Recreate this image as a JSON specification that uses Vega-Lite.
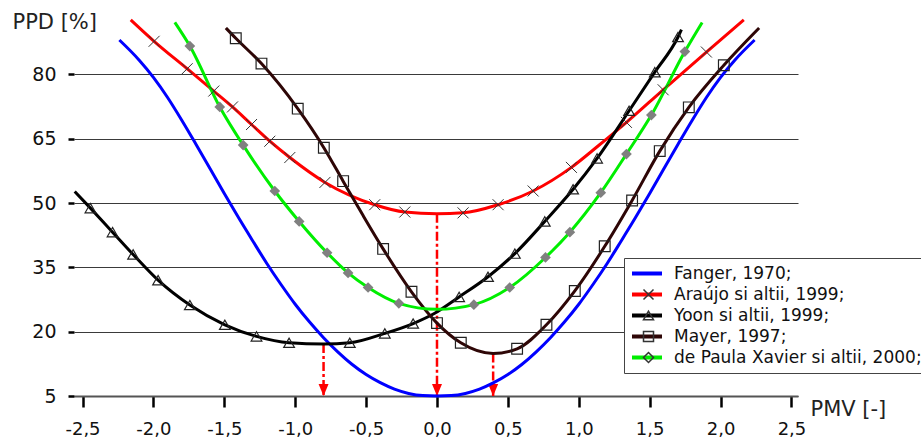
{
  "$schema": "https://vega.github.io/schema/vega-lite/v6.json",
  "width": 724,
  "height": 386,
  "autosize": "none",
  "padding": {"left": 74, "top": 10, "right": 123, "bottom": 44},
  "background": "white",
  "config": {
    "font": "DejaVu Sans",
    "view": {"stroke": null},
    "legend": {
      "orient": "none",
      "legendX": 550,
      "legendY": 248,
      "padding": 6,
      "labelFontSize": 17,
      "labelColor": "#111",
      "labelFont": "DejaVu Sans",
      "labelLimit": 500,
      "clipHeight": 19,
      "rowPadding": 2,
      "title": null
    }
  },
  "datasets": {
    "curves": [
      {"series": "Fanger, 1970;", "pmv": -2.24, "ppd": 88.0},
      {"series": "Fanger, 1970;", "pmv": -2.1, "ppd": 83.3},
      {"series": "Fanger, 1970;", "pmv": -2.0, "ppd": 79.3},
      {"series": "Fanger, 1970;", "pmv": -1.9, "ppd": 74.6},
      {"series": "Fanger, 1970;", "pmv": -1.8, "ppd": 69.3},
      {"series": "Fanger, 1970;", "pmv": -1.7, "ppd": 63.7},
      {"series": "Fanger, 1970;", "pmv": -1.6, "ppd": 58.0},
      {"series": "Fanger, 1970;", "pmv": -1.5, "ppd": 52.2},
      {"series": "Fanger, 1970;", "pmv": -1.4, "ppd": 46.6},
      {"series": "Fanger, 1970;", "pmv": -1.3, "ppd": 41.2},
      {"series": "Fanger, 1970;", "pmv": -1.2, "ppd": 35.9},
      {"series": "Fanger, 1970;", "pmv": -1.1, "ppd": 31.0},
      {"series": "Fanger, 1970;", "pmv": -1.0, "ppd": 26.4},
      {"series": "Fanger, 1970;", "pmv": -0.9, "ppd": 22.3},
      {"series": "Fanger, 1970;", "pmv": -0.8, "ppd": 18.6},
      {"series": "Fanger, 1970;", "pmv": -0.7, "ppd": 15.3},
      {"series": "Fanger, 1970;", "pmv": -0.6, "ppd": 12.4},
      {"series": "Fanger, 1970;", "pmv": -0.5, "ppd": 10.0},
      {"series": "Fanger, 1970;", "pmv": -0.4, "ppd": 8.1},
      {"series": "Fanger, 1970;", "pmv": -0.3, "ppd": 6.6},
      {"series": "Fanger, 1970;", "pmv": -0.2, "ppd": 5.6},
      {"series": "Fanger, 1970;", "pmv": -0.1, "ppd": 5.1},
      {"series": "Fanger, 1970;", "pmv": 0.0, "ppd": 5.0},
      {"series": "Fanger, 1970;", "pmv": 0.1, "ppd": 5.1},
      {"series": "Fanger, 1970;", "pmv": 0.2, "ppd": 5.6},
      {"series": "Fanger, 1970;", "pmv": 0.3, "ppd": 6.6},
      {"series": "Fanger, 1970;", "pmv": 0.4, "ppd": 8.1},
      {"series": "Fanger, 1970;", "pmv": 0.5, "ppd": 10.0},
      {"series": "Fanger, 1970;", "pmv": 0.6, "ppd": 12.4},
      {"series": "Fanger, 1970;", "pmv": 0.7, "ppd": 15.3},
      {"series": "Fanger, 1970;", "pmv": 0.8, "ppd": 18.6},
      {"series": "Fanger, 1970;", "pmv": 0.9, "ppd": 22.3},
      {"series": "Fanger, 1970;", "pmv": 1.0, "ppd": 26.4},
      {"series": "Fanger, 1970;", "pmv": 1.1, "ppd": 31.0},
      {"series": "Fanger, 1970;", "pmv": 1.2, "ppd": 35.9},
      {"series": "Fanger, 1970;", "pmv": 1.3, "ppd": 41.2},
      {"series": "Fanger, 1970;", "pmv": 1.4, "ppd": 46.6},
      {"series": "Fanger, 1970;", "pmv": 1.5, "ppd": 52.2},
      {"series": "Fanger, 1970;", "pmv": 1.6, "ppd": 58.0},
      {"series": "Fanger, 1970;", "pmv": 1.7, "ppd": 63.7},
      {"series": "Fanger, 1970;", "pmv": 1.8, "ppd": 69.3},
      {"series": "Fanger, 1970;", "pmv": 1.9, "ppd": 74.6},
      {"series": "Fanger, 1970;", "pmv": 2.0, "ppd": 79.3},
      {"series": "Fanger, 1970;", "pmv": 2.1, "ppd": 83.3},
      {"series": "Fanger, 1970;", "pmv": 2.24, "ppd": 88.0},

      {"series": "Araújo si altii, 1999;", "pmv": -2.16, "ppd": 92.7},
      {"series": "Araújo si altii, 1999;", "pmv": -1.995, "ppd": 87.7},
      {"series": "Araújo si altii, 1999;", "pmv": -1.762, "ppd": 81.3},
      {"series": "Araújo si altii, 1999;", "pmv": -1.574, "ppd": 76.1},
      {"series": "Araújo si altii, 1999;", "pmv": -1.442, "ppd": 72.4},
      {"series": "Araújo si altii, 1999;", "pmv": -1.308, "ppd": 68.3},
      {"series": "Araújo si altii, 1999;", "pmv": -1.179, "ppd": 64.4},
      {"series": "Araújo si altii, 1999;", "pmv": -1.038, "ppd": 60.6},
      {"series": "Araújo si altii, 1999;", "pmv": -0.79, "ppd": 54.8},
      {"series": "Araújo si altii, 1999;", "pmv": -0.439, "ppd": 49.6},
      {"series": "Araújo si altii, 1999;", "pmv": -0.227, "ppd": 47.9},
      {"series": "Araújo si altii, 1999;", "pmv": 0.0, "ppd": 47.5},
      {"series": "Araújo si altii, 1999;", "pmv": 0.184, "ppd": 47.7},
      {"series": "Araújo si altii, 1999;", "pmv": 0.431, "ppd": 49.6},
      {"series": "Araújo si altii, 1999;", "pmv": 0.678, "ppd": 52.8},
      {"series": "Araújo si altii, 1999;", "pmv": 0.948, "ppd": 58.3},
      {"series": "Araújo si altii, 1999;", "pmv": 1.14, "ppd": 63.4},
      {"series": "Araújo si altii, 1999;", "pmv": 1.336, "ppd": 68.8},
      {"series": "Araújo si altii, 1999;", "pmv": 1.595, "ppd": 76.4},
      {"series": "Araújo si altii, 1999;", "pmv": 1.9, "ppd": 85.2},
      {"series": "Araújo si altii, 1999;", "pmv": 2.164, "ppd": 92.7},

      {"series": "Yoon si altii, 1999;", "pmv": -2.555, "ppd": 52.7},
      {"series": "Yoon si altii, 1999;", "pmv": -2.444, "ppd": 48.8},
      {"series": "Yoon si altii, 1999;", "pmv": -2.288, "ppd": 43.2},
      {"series": "Yoon si altii, 1999;", "pmv": -2.143, "ppd": 38.0},
      {"series": "Yoon si altii, 1999;", "pmv": -1.967, "ppd": 32.0},
      {"series": "Yoon si altii, 1999;", "pmv": -1.743, "ppd": 26.2},
      {"series": "Yoon si altii, 1999;", "pmv": -1.496, "ppd": 21.6},
      {"series": "Yoon si altii, 1999;", "pmv": -1.273, "ppd": 18.9},
      {"series": "Yoon si altii, 1999;", "pmv": -1.043, "ppd": 17.4},
      {"series": "Yoon si altii, 1999;", "pmv": -0.8, "ppd": 17.1},
      {"series": "Yoon si altii, 1999;", "pmv": -0.615, "ppd": 17.4},
      {"series": "Yoon si altii, 1999;", "pmv": -0.368, "ppd": 19.6},
      {"series": "Yoon si altii, 1999;", "pmv": -0.168, "ppd": 21.9},
      {"series": "Yoon si altii, 1999;", "pmv": -0.016, "ppd": 24.3},
      {"series": "Yoon si altii, 1999;", "pmv": 0.156, "ppd": 28.1},
      {"series": "Yoon si altii, 1999;", "pmv": 0.36, "ppd": 32.8},
      {"series": "Yoon si altii, 1999;", "pmv": 0.549, "ppd": 38.2},
      {"series": "Yoon si altii, 1999;", "pmv": 0.76, "ppd": 45.7},
      {"series": "Yoon si altii, 1999;", "pmv": 0.96, "ppd": 53.2},
      {"series": "Yoon si altii, 1999;", "pmv": 1.129, "ppd": 60.4},
      {"series": "Yoon si altii, 1999;", "pmv": 1.355, "ppd": 71.5},
      {"series": "Yoon si altii, 1999;", "pmv": 1.536, "ppd": 80.5},
      {"series": "Yoon si altii, 1999;", "pmv": 1.7, "ppd": 88.7},
      {"series": "Yoon si altii, 1999;", "pmv": 1.724, "ppd": 90.4},

      {"series": "Mayer, 1997;", "pmv": -1.489, "ppd": 90.8},
      {"series": "Mayer, 1997;", "pmv": -1.419, "ppd": 88.4},
      {"series": "Mayer, 1997;", "pmv": -1.238, "ppd": 82.5},
      {"series": "Mayer, 1997;", "pmv": -0.982, "ppd": 72.0},
      {"series": "Mayer, 1997;", "pmv": -0.798, "ppd": 62.9},
      {"series": "Mayer, 1997;", "pmv": -0.662, "ppd": 55.1},
      {"series": "Mayer, 1997;", "pmv": -0.52, "ppd": 47.0},
      {"series": "Mayer, 1997;", "pmv": -0.38, "ppd": 39.3},
      {"series": "Mayer, 1997;", "pmv": -0.18, "ppd": 29.3},
      {"series": "Mayer, 1997;", "pmv": 0.0, "ppd": 22.0},
      {"series": "Mayer, 1997;", "pmv": 0.168, "ppd": 17.4},
      {"series": "Mayer, 1997;", "pmv": 0.396, "ppd": 14.9},
      {"series": "Mayer, 1997;", "pmv": 0.565, "ppd": 16.0},
      {"series": "Mayer, 1997;", "pmv": 0.772, "ppd": 21.6},
      {"series": "Mayer, 1997;", "pmv": 0.972, "ppd": 29.5},
      {"series": "Mayer, 1997;", "pmv": 1.183, "ppd": 39.9},
      {"series": "Mayer, 1997;", "pmv": 1.376, "ppd": 50.6},
      {"series": "Mayer, 1997;", "pmv": 1.571, "ppd": 62.1},
      {"series": "Mayer, 1997;", "pmv": 1.776, "ppd": 72.3},
      {"series": "Mayer, 1997;", "pmv": 2.023, "ppd": 82.1},
      {"series": "Mayer, 1997;", "pmv": 2.272, "ppd": 90.8},

      {"series": "de Paula Xavier si altii, 2000;", "pmv": -1.849, "ppd": 92.1},
      {"series": "de Paula Xavier si altii, 2000;", "pmv": -1.743, "ppd": 86.6},
      {"series": "de Paula Xavier si altii, 2000;", "pmv": -1.532, "ppd": 72.4},
      {"series": "de Paula Xavier si altii, 2000;", "pmv": -1.367, "ppd": 63.5},
      {"series": "de Paula Xavier si altii, 2000;", "pmv": -1.144, "ppd": 52.8},
      {"series": "de Paula Xavier si altii, 2000;", "pmv": -0.972, "ppd": 45.7},
      {"series": "de Paula Xavier si altii, 2000;", "pmv": -0.775, "ppd": 38.4},
      {"series": "de Paula Xavier si altii, 2000;", "pmv": -0.627, "ppd": 33.7},
      {"series": "de Paula Xavier si altii, 2000;", "pmv": -0.486, "ppd": 30.3},
      {"series": "de Paula Xavier si altii, 2000;", "pmv": -0.269, "ppd": 26.6},
      {"series": "de Paula Xavier si altii, 2000;", "pmv": 0.0, "ppd": 25.2},
      {"series": "de Paula Xavier si altii, 2000;", "pmv": 0.26, "ppd": 26.3},
      {"series": "de Paula Xavier si altii, 2000;", "pmv": 0.513, "ppd": 30.3},
      {"series": "de Paula Xavier si altii, 2000;", "pmv": 0.765, "ppd": 37.3},
      {"series": "de Paula Xavier si altii, 2000;", "pmv": 0.937, "ppd": 43.2},
      {"series": "de Paula Xavier si altii, 2000;", "pmv": 1.155, "ppd": 52.4},
      {"series": "de Paula Xavier si altii, 2000;", "pmv": 1.336, "ppd": 61.4},
      {"series": "de Paula Xavier si altii, 2000;", "pmv": 1.512, "ppd": 70.5},
      {"series": "de Paula Xavier si altii, 2000;", "pmv": 1.748, "ppd": 85.3},
      {"series": "de Paula Xavier si altii, 2000;", "pmv": 1.87, "ppd": 92.1}
    ],
    "markers": [
      {"m": "A", "pmv": -1.995, "ppd": 87.7},
      {"m": "A", "pmv": -1.762, "ppd": 81.3},
      {"m": "A", "pmv": -1.574, "ppd": 76.1},
      {"m": "A", "pmv": -1.442, "ppd": 72.4},
      {"m": "A", "pmv": -1.308, "ppd": 68.3},
      {"m": "A", "pmv": -1.179, "ppd": 64.4},
      {"m": "A", "pmv": -1.038, "ppd": 60.6},
      {"m": "A", "pmv": -0.79, "ppd": 54.8},
      {"m": "A", "pmv": -0.439, "ppd": 49.6},
      {"m": "A", "pmv": -0.227, "ppd": 47.9},
      {"m": "A", "pmv": 0.184, "ppd": 47.7},
      {"m": "A", "pmv": 0.431, "ppd": 49.6},
      {"m": "A", "pmv": 0.678, "ppd": 52.8},
      {"m": "A", "pmv": 0.948, "ppd": 58.3},
      {"m": "A", "pmv": 1.336, "ppd": 68.8},
      {"m": "A", "pmv": 1.595, "ppd": 76.4},
      {"m": "A", "pmv": 1.9, "ppd": 85.2},

      {"m": "Y", "pmv": -2.444, "ppd": 48.8},
      {"m": "Y", "pmv": -2.288, "ppd": 43.2},
      {"m": "Y", "pmv": -2.143, "ppd": 38.0},
      {"m": "Y", "pmv": -1.967, "ppd": 32.0},
      {"m": "Y", "pmv": -1.743, "ppd": 26.2},
      {"m": "Y", "pmv": -1.496, "ppd": 21.6},
      {"m": "Y", "pmv": -1.273, "ppd": 18.9},
      {"m": "Y", "pmv": -1.043, "ppd": 17.4},
      {"m": "Y", "pmv": -0.615, "ppd": 17.4},
      {"m": "Y", "pmv": -0.368, "ppd": 19.6},
      {"m": "Y", "pmv": -0.168, "ppd": 21.9},
      {"m": "Y", "pmv": 0.156, "ppd": 28.1},
      {"m": "Y", "pmv": 0.36, "ppd": 32.8},
      {"m": "Y", "pmv": 0.549, "ppd": 38.2},
      {"m": "Y", "pmv": 0.76, "ppd": 45.7},
      {"m": "Y", "pmv": 0.96, "ppd": 53.2},
      {"m": "Y", "pmv": 1.129, "ppd": 60.4},
      {"m": "Y", "pmv": 1.355, "ppd": 71.5},
      {"m": "Y", "pmv": 1.536, "ppd": 80.5},
      {"m": "Y", "pmv": 1.7, "ppd": 88.7},

      {"m": "M", "pmv": -1.419, "ppd": 88.4},
      {"m": "M", "pmv": -1.238, "ppd": 82.5},
      {"m": "M", "pmv": -0.982, "ppd": 72.0},
      {"m": "M", "pmv": -0.798, "ppd": 62.9},
      {"m": "M", "pmv": -0.662, "ppd": 55.1},
      {"m": "M", "pmv": -0.38, "ppd": 39.3},
      {"m": "M", "pmv": -0.18, "ppd": 29.3},
      {"m": "M", "pmv": 0.0, "ppd": 22.0},
      {"m": "M", "pmv": 0.168, "ppd": 17.4},
      {"m": "M", "pmv": 0.565, "ppd": 16.0},
      {"m": "M", "pmv": 0.772, "ppd": 21.6},
      {"m": "M", "pmv": 0.972, "ppd": 29.5},
      {"m": "M", "pmv": 1.183, "ppd": 39.9},
      {"m": "M", "pmv": 1.376, "ppd": 50.6},
      {"m": "M", "pmv": 1.571, "ppd": 62.1},
      {"m": "M", "pmv": 1.776, "ppd": 72.3},
      {"m": "M", "pmv": 2.023, "ppd": 82.1},

      {"m": "P", "pmv": -1.743, "ppd": 86.6},
      {"m": "P", "pmv": -1.532, "ppd": 72.4},
      {"m": "P", "pmv": -1.367, "ppd": 63.5},
      {"m": "P", "pmv": -1.144, "ppd": 52.8},
      {"m": "P", "pmv": -0.972, "ppd": 45.7},
      {"m": "P", "pmv": -0.775, "ppd": 38.4},
      {"m": "P", "pmv": -0.627, "ppd": 33.7},
      {"m": "P", "pmv": -0.486, "ppd": 30.3},
      {"m": "P", "pmv": -0.269, "ppd": 26.6},
      {"m": "P", "pmv": 0.26, "ppd": 26.3},
      {"m": "P", "pmv": 0.513, "ppd": 30.3},
      {"m": "P", "pmv": 0.765, "ppd": 37.3},
      {"m": "P", "pmv": 0.937, "ppd": 43.2},
      {"m": "P", "pmv": 1.155, "ppd": 52.4},
      {"m": "P", "pmv": 1.336, "ppd": 61.4},
      {"m": "P", "pmv": 1.512, "ppd": 70.5},
      {"m": "P", "pmv": 1.748, "ppd": 85.3}
    ],
    "arrows": [
      {"pmv": -0.8, "top": 17.1},
      {"pmv": 0.0, "top": 47.5},
      {"pmv": 0.396, "top": 14.9}
    ]
  },
  "layer": [
    {
      "data": {"name": "arrows"},
      "mark": {"type": "rule", "color": "#ff0000", "strokeWidth": 2.5, "strokeDash": [9, 3, 3, 3]},
      "encoding": {
        "x": {
          "field": "pmv", "type": "quantitative",
          "scale": {"domain": [-2.56, 2.546], "nice": false, "zero": false},
          "axis": {
            "values": [-2.5, -2.0, -1.5, -1.0, -0.5, 0.0, 0.5, 1.0, 1.5, 2.0, 2.5],
            "labelExpr": "(datum.value < 0 ? '-' : '') + replace(format(abs(datum.value), '.1f'), '.', ',')",
            "grid": false,
            "domainColor": "#555",
            "domainWidth": 2,
            "tickColor": "#000",
            "tickWidth": 2.5,
            "tickSize": 11,
            "labelFontSize": 18,
            "labelColor": "#111",
            "labelPadding": 13.5,
            "labelFlush": false,
            "labelOverlap": false,
            "title": "PMV [-]",
            "titleFontSize": 21,
            "titleFontWeight": "normal",
            "titleColor": "#222",
            "titleAngle": 0,
            "titleAlign": "left",
            "titleBaseline": "alphabetic",
            "titleX": 736,
            "titleY": 19
          }
        },
        "y": {
          "field": "top", "type": "quantitative",
          "scale": {"domain": [5, 95], "nice": false, "zero": false},
          "axis": {
            "values": [5, 20, 35, 50, 65, 80],
            "grid": true,
            "gridColor": "#3a3a3a",
            "gridWidth": 1.2,
            "domain": false,
            "tickColor": "#000",
            "tickWidth": 2.5,
            "tickSize": 6,
            "labelFontSize": 19,
            "labelColor": "#111",
            "labelPadding": 12,
            "labelFlush": false,
            "title": "PPD [%]",
            "titleFontSize": 21,
            "titleFontWeight": "normal",
            "titleColor": "#222",
            "titleAngle": 0,
            "titleAlign": "left",
            "titleBaseline": "alphabetic",
            "titleX": -62,
            "titleY": 18
          }
        },
        "y2": {"datum": 5}
      }
    },
    {
      "data": {"name": "arrows"},
      "mark": {"type": "point", "shape": "M-1,-2.4L1,-2.4L0,0Z", "filled": true, "color": "#ff0000", "size": 100, "opacity": 1, "strokeWidth": 0},
      "encoding": {
        "x": {"field": "pmv", "type": "quantitative"},
        "y": {"datum": 5}
      }
    },
    {
      "data": {"name": "curves"},
      "mark": {"type": "line", "strokeWidth": 3, "interpolate": "monotone"},
      "encoding": {
        "x": {"field": "pmv", "type": "quantitative"},
        "y": {"field": "ppd", "type": "quantitative"},
        "color": {
          "field": "series", "type": "nominal",
          "scale": {
            "domain": ["Fanger, 1970;", "Araújo si altii, 1999;", "Yoon si altii, 1999;", "Mayer, 1997;", "de Paula Xavier si altii, 2000;"],
            "range": ["#0000ff", "#ff0000", "#000000", "#2e0606", "#00ee00"]
          },
          "legend": {
            "symbolType": "stroke",
            "symbolSize": 900,
            "symbolStrokeWidth": 4,
            "labelOffset": 10,
            "fillColor": "white",
            "strokeColor": "#444",
            "zindex": 1
          }
        },
        "order": {"field": "pmv", "type": "quantitative"}
      }
    },
    {
      "data": {"name": "markers"},
      "transform": [{"filter": "datum.m === 'A'"}],
      "mark": {"type": "point", "filled": false, "stroke": "#333", "strokeWidth": 1, "size": 121, "opacity": 1},
      "encoding": {
        "x": {"field": "pmv", "type": "quantitative"},
        "y": {"field": "ppd", "type": "quantitative"},
        "shape": {"field": "m", "type": "nominal",
          "scale": {
            "domain": ["F", "A", "Y", "M", "P"],
            "range": ["M0,0", "M-1,-1L1,1M-1,1L1,-1", "triangle-up", "square", "diamond"]
          },
          "legend": {
            "symbolSize": 100,
            "symbolOffset": 10,
            "labelOffset": 30,
            "labelExpr": "''",
            "fillColor": "transparent",
            "strokeColor": "transparent",
            "zindex": 2,
            "encode": {
              "symbols": {
                "update": {
                  "fill": {"signal": "datum.value === 'P' ? '#808080' : 'transparent'"},
                  "stroke": {"signal": "datum.value === 'P' ? 'transparent' : '#222'"},
                  "strokeWidth": {"value": 1.2},
                  "opacity": {"value": 1}
                }
              }
            }
          }
        }
      }
    },
    {
      "data": {"name": "markers"},
      "transform": [{"filter": "datum.m === 'Y'"}],
      "mark": {"type": "point", "filled": false, "stroke": "#222", "strokeWidth": 1.2, "size": 115, "opacity": 1},
      "encoding": {
        "x": {"field": "pmv", "type": "quantitative"},
        "y": {"field": "ppd", "type": "quantitative"},
        "shape": {"field": "m", "type": "nominal"}
      }
    },
    {
      "data": {"name": "markers"},
      "transform": [{"filter": "datum.m === 'M'"}],
      "mark": {"type": "point", "filled": false, "stroke": "#222", "strokeWidth": 1.2, "size": 115, "opacity": 1},
      "encoding": {
        "x": {"field": "pmv", "type": "quantitative"},
        "y": {"field": "ppd", "type": "quantitative"},
        "shape": {"field": "m", "type": "nominal"}
      }
    },
    {
      "data": {"name": "markers"},
      "transform": [{"filter": "datum.m === 'P'"}],
      "mark": {"type": "point", "filled": true, "color": "#808080", "size": 115, "opacity": 1, "strokeWidth": 0},
      "encoding": {
        "x": {"field": "pmv", "type": "quantitative"},
        "y": {"field": "ppd", "type": "quantitative"},
        "shape": {"field": "m", "type": "nominal"}
      }
    }
  ]
}
